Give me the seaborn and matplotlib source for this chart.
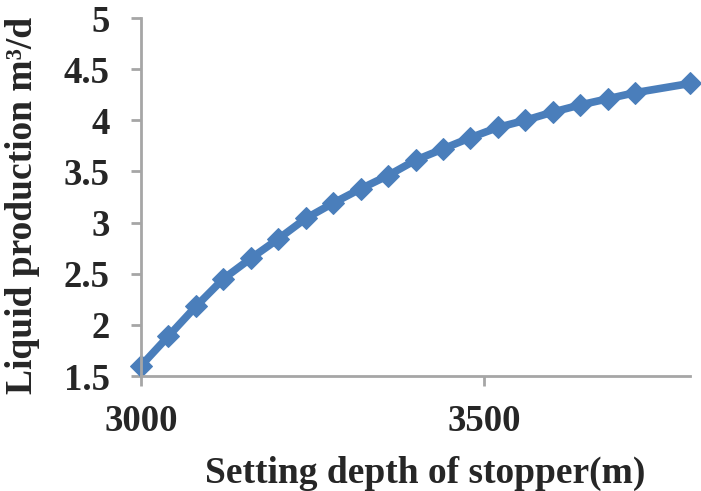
import matplotlib
matplotlib.use("Agg")
import matplotlib.pyplot as plt
import seaborn as sns
import pandas as pd

depth = [3000, 3040, 3080, 3120, 3160, 3200, 3240, 3280, 3320, 3360,
         3400, 3440, 3480, 3520, 3560, 3600, 3640, 3680, 3720, 3800]
production = [1.60, 1.89, 2.18, 2.45, 2.65, 2.84, 3.04, 3.19, 3.33, 3.46,
              3.61, 3.72, 3.83, 3.93, 4.00, 4.08, 4.15, 4.21, 4.27, 4.36]
x_ticks = [3000, 3500]
y_ticks = [1.5, 2, 2.5, 3, 3.5, 4, 4.5, 5]
y_tick_labels = ["1.5", "2", "2.5", "3", "3.5", "4", "4.5", "5"]

df = pd.DataFrame({"depth": depth, "production": production})

sns.set_style("white")
plt.rcParams["font.family"] = ["Liberation Serif", "DejaVu Serif"]
plt.rcParams["font.weight"] = "bold"

fig = plt.figure(figsize=(7.01, 4.91), dpi=100)
ax = fig.add_axes([141/701, 1 - 376/491, (690-141)/701, (376-18)/491])

color = "#4A7EBB"
sns.lineplot(data=df, x="depth", y="production", ax=ax, color=color,
             linewidth=5.5, marker="D", markersize=11.5, markeredgecolor=color,
             markerfacecolor=color, clip_on=False)

ax.set_xlim(3000, 3800)
ax.set_ylim(1.5, 5)
ax.set_xticks(x_ticks)
ax.set_yticks(y_ticks)
ax.set_yticklabels(y_tick_labels)

for s in ["top", "right"]:
    ax.spines[s].set_visible(False)
for s in ["left", "bottom"]:
    ax.spines[s].set_color("#A6A6A6")
    ax.spines[s].set_linewidth(2)

ax.tick_params(axis="both", which="major", direction="out", length=7.5, width=2,
               color="#A6A6A6", labelsize=26.5, bottom=True, left=True)
ax.tick_params(axis="y", pad=15)
ax.tick_params(axis="x", pad=13)
for lab in ax.get_xticklabels() + ax.get_yticklabels():
    lab.set_fontweight("bold")

ax.set_xlabel("Setting depth of stopper(m)", fontsize=27, fontweight="bold")
ax.set_ylabel("Liquid production m³/d", fontsize=27, fontweight="bold")
ax.xaxis.set_label_coords((425 - 141) / 549, (376 - 473) / 358)
ax.xaxis.label.set_va("center")
ax.yaxis.set_label_coords((23 - 141) / 549, (376 - 205) / 358)
ax.yaxis.label.set_va("center")

fig.savefig("out.png", dpi=100)
